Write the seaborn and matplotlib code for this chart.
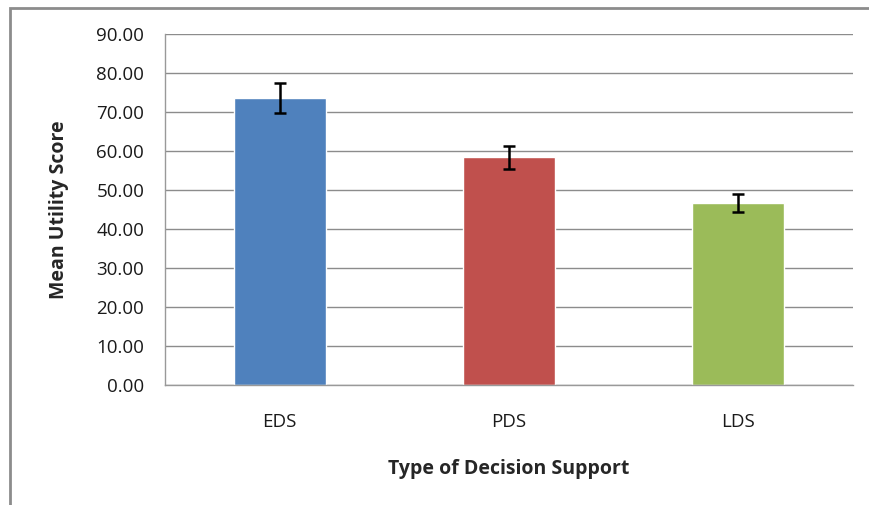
import matplotlib
matplotlib.use('Agg')
import matplotlib.pyplot as plt
import numpy as np
import pandas as pd
import seaborn as sns
from matplotlib.patches import Rectangle

categories = ['EDS', 'PDS', 'LDS']
mean_score = [73.6, 58.4, 46.6]
err = [3.8, 3.0, 2.3]
colors = ['#4F81BD', '#C0504D', '#9BBB59']
yticks = [0, 10, 20, 30, 40, 50, 60, 70, 80, 90]

data = pd.DataFrame({'Type': categories, 'Score': mean_score})

sns.set_style('white')
plt.rcParams['font.family'] = ['Open Sans', 'DejaVu Sans']

fig = plt.figure(figsize=(8.69, 5.05), dpi=100)
ax = fig.add_axes([165 / 869, 1 - 385 / 505, 688 / 869, 351 / 505])

sns.barplot(data=data, x='Type', y='Score', hue='Type', palette=colors,
            width=0.4, errorbar=None, legend=False, saturation=1, ax=ax)
ax.errorbar(np.arange(len(categories)), mean_score, yerr=err, fmt='none',
            ecolor='black', elinewidth=1.8, capsize=4.5, capthick=1.8, zorder=5)

ax.set_ylim(0, 90)
ax.set_xlim(-0.5, 2.5)
ax.set_yticks(yticks)
ax.set_yticklabels([f'{v:.2f}' for v in yticks], fontsize=13.5, color='#1a1a1a')
ax.tick_params(axis='y', length=8, width=1, color='#888888', direction='out', pad=7)
ax.tick_params(axis='x', length=0, labelsize=13.5, pad=20, colors='#1a1a1a')
ax.grid(axis='y', color='#8c8c8c', linewidth=1)
ax.set_axisbelow(True)

for s in ['top', 'right']:
    ax.spines[s].set_visible(False)
for s in ['left', 'bottom']:
    ax.spines[s].set_color('#999999')
    ax.spines[s].set_linewidth(1)

ax.set_xlabel('Type of Decision Support', fontsize=14, fontweight='bold', labelpad=20)
ax.set_ylabel('Mean Utility Score', fontsize=14, fontweight='bold', labelpad=20)

# chart outer border (partly cropped in the original)
fig.patches.append(Rectangle((10 / 869, -0.1), 1.2, 1.1 - 8 / 505,
                             transform=fig.transFigure, fill=False,
                             edgecolor='#8c8c8c', linewidth=2))

fig.savefig('out.png', dpi=100)
